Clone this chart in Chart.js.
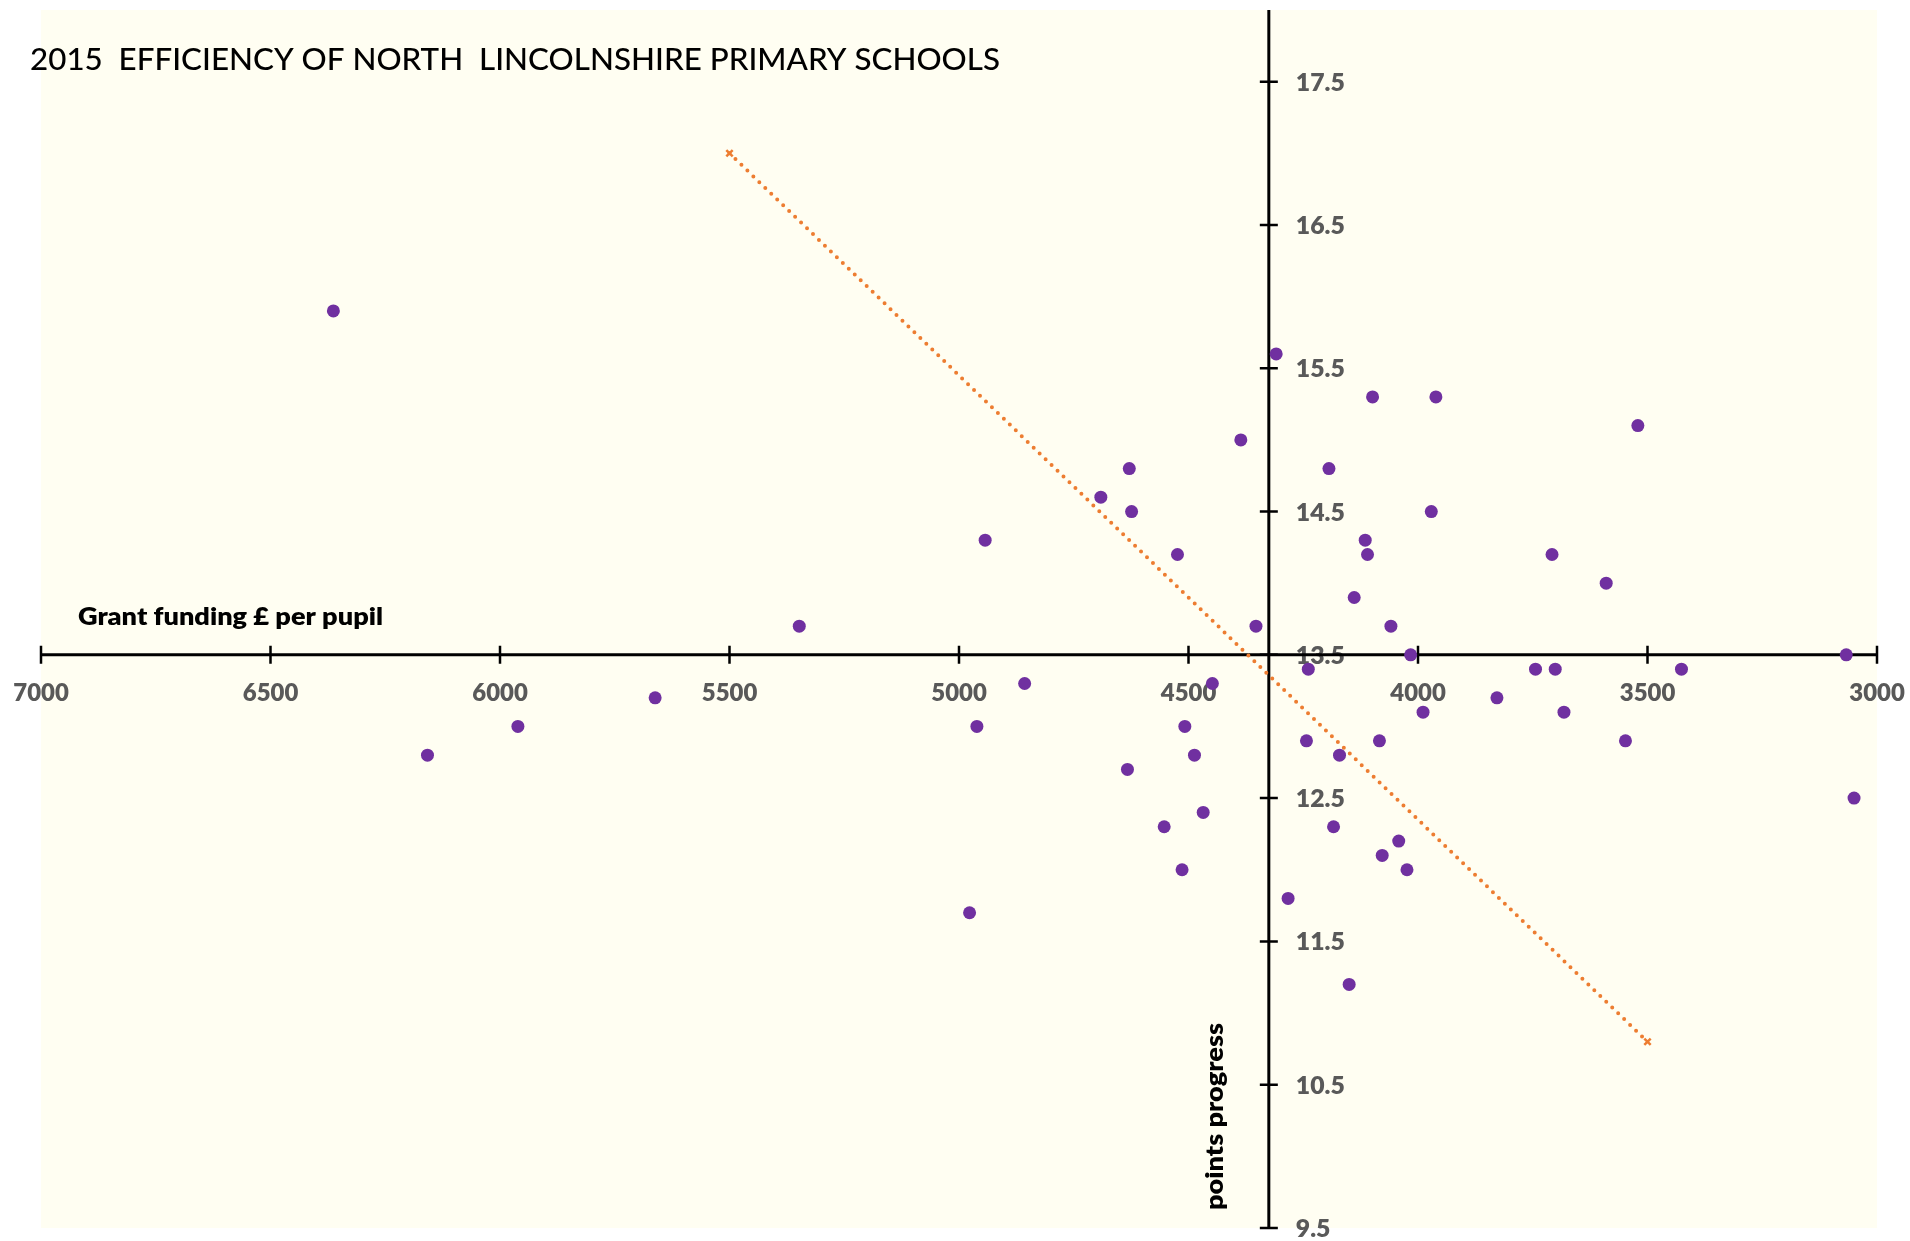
<!DOCTYPE html>
<html lang="en">
<head>
<meta charset="UTF-8">
<title>2015 Efficiency of North Lincolnshire Primary Schools</title>
<script src="https://cdn.jsdelivr.net/npm/chart.js"></script>
<style>
  html, body { margin: 0; padding: 0; background: #ffffff; }
  canvas { display: block; }
</style>
</head>
<body>
<canvas id="chart" width="1910" height="1241"></canvas>
<script>
// grant funding per pupil (£) and points progress, one entry per school
const funding = [6363, 6158, 5961, 5662, 5348, 4977, 4961, 4943, 4857, 4691,
                 4633, 4629, 4624, 4553, 4524, 4514, 4508, 4487, 4468, 4448,
                 4386, 4353, 4309, 4283, 4243, 4239, 4194, 4184, 4171, 4150,
                 4139, 4115, 4110, 4099, 4084, 4078, 4059, 4042, 4024, 4016,
                 3989, 3971, 3961, 3828, 3744, 3708, 3701, 3682, 3590, 3548,
                 3521, 3426, 3067, 3050];
const progress = [15.9, 12.8, 13.0, 13.2, 13.7, 11.7, 13.0, 14.3, 13.3, 14.6,
                  12.7, 14.8, 14.5, 12.3, 14.2, 12.0, 13.0, 12.8, 12.4, 13.3,
                  15.0, 13.7, 15.6, 11.8, 12.9, 13.4, 14.8, 12.3, 12.8, 11.2,
                  13.9, 14.3, 14.2, 15.3, 12.9, 12.1, 13.7, 12.2, 12.0, 13.5,
                  13.1, 14.5, 15.3, 13.2, 13.4, 14.2, 13.4, 13.1, 14.0, 12.9,
                  15.1, 13.4, 13.5, 12.5];
// trend line end points
const trendX = [5500, 3500];
const trendY = [17.0, 10.8];
// axis ticks and crossing points
const xTicks = [7000, 6500, 6000, 5500, 5000, 4500, 4000, 3500, 3000];
const yTicks = [17.5, 16.5, 15.5, 14.5, 13.5, 12.5, 11.5, 10.5, 9.5];
const xCross = 13.5;   // x axis sits at this progress value
const yCross = 4325;   // y axis sits at this funding value

const FONT = 'Lato, "Open Sans", sans-serif';

// draw text with a given cap height, squeezed sideways to a target width
function fitText(ctx, text, weight, capH, x, y, align, refText, refWidth) {
  ctx.font = weight + ' 100px ' + FONT;
  const capRatio = ctx.measureText('H').actualBoundingBoxAscent / 100;
  const size = capH / capRatio;
  ctx.font = weight + ' ' + size + 'px ' + FONT;
  let sx = 1;
  if (refWidth) sx = refWidth / ctx.measureText(refText || text).width;
  ctx.save();
  ctx.translate(x, y);
  ctx.scale(sx, 1);
  ctx.textAlign = align;
  ctx.textBaseline = 'alphabetic';
  ctx.fillText(text, 0, 0);
  ctx.restore();
}

const crossAxes = {
  id: 'crossAxes',
  beforeDraw(chart) {
    const ctx = chart.ctx, a = chart.chartArea;
    ctx.save();
    ctx.fillStyle = '#fffef2';
    ctx.fillRect(a.left, a.top, a.right - a.left, a.bottom - a.top);
    ctx.restore();
  },
  beforeDatasetsDraw(chart) {
    const ctx = chart.ctx, a = chart.chartArea;
    const xs = chart.scales.x, ys = chart.scales.y;
    const ax = xs.getPixelForValue(yCross);
    const ay = ys.getPixelForValue(xCross);
    ctx.save();

    // title
    ctx.fillStyle = '#000000';
    fitText(ctx, '2015  EFFICIENCY OF NORTH  LINCOLNSHIRE PRIMARY SCHOOLS', '500', 23, 30, 70, 'left', null, 970);

    // axis titles
    fitText(ctx, 'Grant funding £ per pupil', '800', 18.5, 78, 625, 'left', null, 305);
    ctx.save();
    ctx.translate(ax - 46, 1116.5);
    ctx.rotate(-Math.PI / 2);
    fitText(ctx, 'points progress', '800', 18.5, 0, 0, 'center', null, 187);
    ctx.restore();

    // tick labels
    ctx.fillStyle = '#595959';
    xTicks.forEach(v => {
      fitText(ctx, String(v), '800', 18, xs.getPixelForValue(v), ay + 46.5, 'center', '3000', 55.5);
    });
    yTicks.forEach(v => {
      fitText(ctx, v.toFixed(1), '800', 18, ax + 27, ys.getPixelForValue(v) + 9, 'left', '10.5', 49);
    });

    // axis lines
    ctx.strokeStyle = '#000000';
    ctx.lineWidth = 3;
    ctx.beginPath();
    ctx.moveTo(a.left, ay); ctx.lineTo(a.right, ay);
    ctx.moveTo(ax, a.top); ctx.lineTo(ax, a.bottom);
    ctx.stroke();

    // crossing tick marks
    ctx.lineWidth = 2.5;
    ctx.beginPath();
    xTicks.forEach(v => {
      const px = xs.getPixelForValue(v);
      ctx.moveTo(px, ay - 9); ctx.lineTo(px, ay + 9);
    });
    yTicks.forEach(v => {
      const py = ys.getPixelForValue(v);
      ctx.moveTo(ax - 9, py); ctx.lineTo(ax + 9, py);
    });
    ctx.stroke();
    ctx.restore();
  }
};

const ctx = document.getElementById('chart').getContext('2d');
new Chart(ctx, {
  type: 'scatter',
  data: {
    datasets: [
      {
        label: 'Schools',
        data: funding.map((f, i) => ({ x: f, y: progress[i] })),
        pointRadius: 6.5,
        pointHoverRadius: 6.5,
        pointBackgroundColor: '#7030a0',
        pointBorderWidth: 0
      },
      {
        label: 'Trend',
        data: trendX.map((f, i) => ({ x: f, y: trendY[i] })),
        showLine: true,
        borderColor: '#ed7d31',
        borderWidth: 4,
        borderDash: [0, 8.3],
        borderCapStyle: 'round',
        pointStyle: 'crossRot',
        pointRadius: 4.5,
        pointBorderColor: '#ed7d31',
        pointBorderWidth: 2.5
      }
    ]
  },
  options: {
    responsive: false,
    devicePixelRatio: 1,
    animation: false,
    layout: { padding: { left: 41, right: 33, top: 10, bottom: 13 } },
    plugins: {
      legend: { display: false },
      tooltip: { enabled: false },
      title: { display: false }
    },
    scales: {
      x: { type: 'linear', min: 3000, max: 7000, reverse: true, display: false },
      y: { type: 'linear', min: 9.5, max: 18, display: false }
    }
  },
  plugins: [crossAxes]
});
</script>
</body>
</html>
